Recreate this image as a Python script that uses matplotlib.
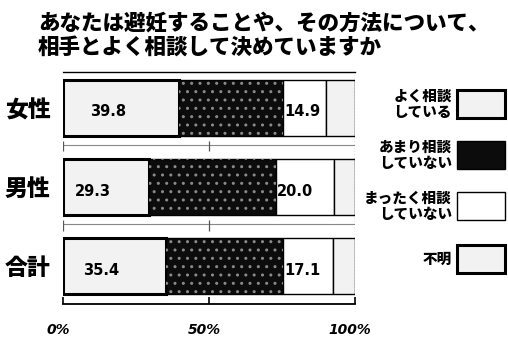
import matplotlib
matplotlib.use("Agg")
import matplotlib.pyplot as plt
from matplotlib.patches import Rectangle
from matplotlib.transforms import ScaledTranslation

plt.rcParams['font.family'] = ['Noto Sans CJK JP', 'DejaVu Sans']

# survey answers (%), one list per answer
groups = ['女性', '男性', '合計']
often = [39.8, 29.3, 35.4]
seldom = [35.5, 43.6, 39.9]
never = [14.9, 20.0, 17.1]
unknown = [9.8, 7.1, 7.6]
series_names = ['よく相談\nしている', 'あまり相談\nしていない', 'まったく相談\nしていない', '不明']
tick_labels = ['0%', '50%', '100%']

styles = [
    dict(facecolor='#f2f2f2', edgecolor='black', linewidth=2.2),
    dict(facecolor='#0c0c0c', edgecolor='black', linewidth=1.0),
    dict(facecolor='white', edgecolor='black', linewidth=1.0),
    dict(facecolor='#f2f2f2', edgecolor='black', linewidth=2.2),
]
bar_lw = [2.2, 1.0, 1.0, 1.0]

fig = plt.figure(figsize=(5.08, 3.4), dpi=100)
ax = fig.add_axes([63/508, 1 - 304/340, 292/508, 232/340])

ypos = list(range(len(groups)))
series = [often, seldom, never, unknown]
left = [0.0] * len(groups)
for vals, st, lw in zip(series, styles, bar_lw):
    ax.barh(ypos, vals, left=left, height=0.7, **dict(st, linewidth=lw))
    left = [l + v for l, v in zip(left, vals)]

# speckle on the dark segments
ax.barh(ypos, seldom, left=often, height=0.7, fill=False, hatch='..',
        edgecolor='#8a8a8a', linewidth=0)

# value labels
for i in ypos:
    ax.text(often[i] / 2 - 4.5, i + 0.05, f'{often[i]:.1f}', ha='center', va='center',
            fontsize=10.5, fontweight='bold', family='DejaVu Sans')
    ax.text(often[i] + seldom[i] + 0.5, i + 0.05, f'{never[i]:.1f}', ha='left', va='center',
            fontsize=10.5, fontweight='bold', family='DejaVu Sans')

# thin scale lines between rows
for i in ypos[:-1]:
    ax.plot([0, 100], [i + 0.47, i + 0.47], color='#888888', lw=0.8)
    ax.vlines([0, 50], i + 0.42, i + 0.55, color='#555555', lw=0.9)

ax.axvline(100, ls=':', color='#555555', lw=0.9)

ax.set_xlim(0, 100)
ax.set_ylim(2.48, -0.456)
for s in ['left', 'right']:
    ax.spines[s].set_visible(False)
ax.spines['top'].set_linewidth(1.0)
ax.spines['bottom'].set_linewidth(1.3)

ax.set_xticks([0, 50, 100])
ax.set_xticklabels(tick_labels, fontsize=10, fontweight='bold', fontstyle='italic',
                   family='DejaVu Sans')
ax.tick_params(axis='x', direction='in', length=5, width=1.2, pad=14)
for lab in ax.get_xticklabels():
    lab.set_transform(lab.get_transform() + ScaledTranslation(-0.05, 0, fig.dpi_scale_trans))

ax.set_yticks(ypos)
ax.set_yticklabels(groups, fontsize=16.5, fontweight='heavy')
ax.tick_params(axis='y', length=0, pad=9)

fig.text(38/508, 1 - 12/340, 'あなたは避妊することや、その方法について、\n相手とよく相談して決めていますか',
         ha='left', va='top', fontsize=15.5, fontweight='heavy', linespacing=1.05)

# legend drawn beside the chart
leg_y = [104, 155, 206, 259]
for name, st, yc in zip(series_names, styles, leg_y):
    fig.text(452/508, 1 - yc/340, name, ha='right', va='center', fontsize=10.5,
             fontweight='heavy', linespacing=1.1)
    fig.add_artist(Rectangle((457/508, 1 - (yc + 14)/340), 48/508, 28/340,
                             transform=fig.transFigure, **st))

fig.savefig('out.png', dpi=100)
